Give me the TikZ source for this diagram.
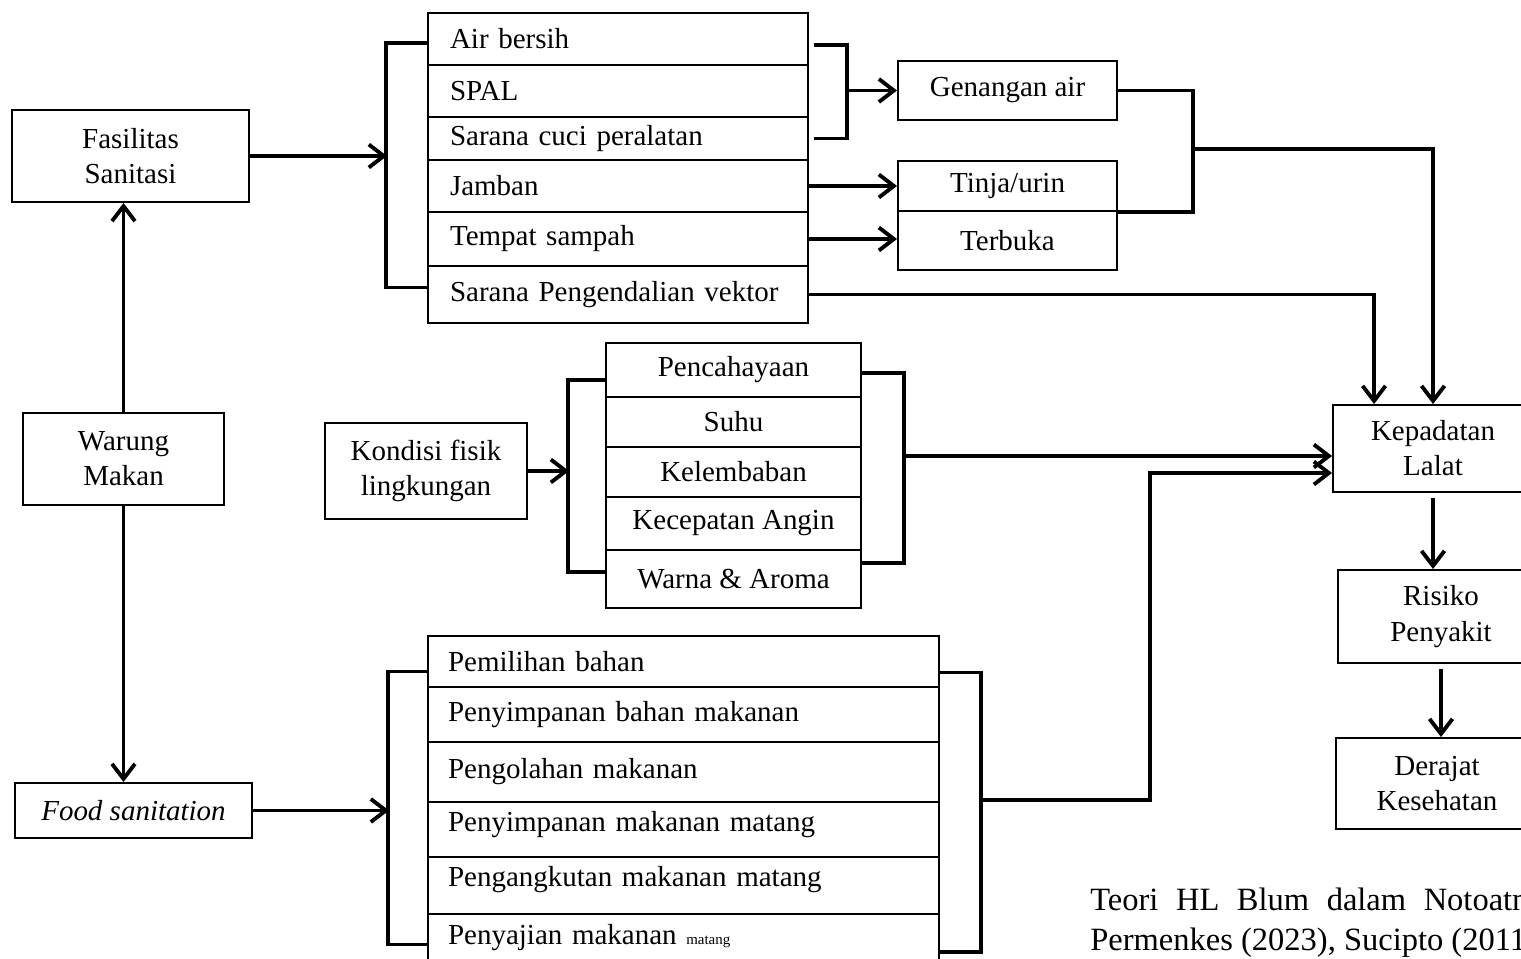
\documentclass[tikz,border=0pt]{standalone}
\usepackage{fontspec}
\setmainfont{Liberation Serif}
\usetikzlibrary{arrows.meta}

\begin{document}
\begin{tikzpicture}[
x=0.02cm, y=-0.02cm,
box/.style={
draw,
line width=1.1pt,
align=center,
inner sep=0pt,
font=\fontsize{16.5}{20}\selectfont
},
itemrow/.style={
draw,
line width=1.1pt,
align=left,
inner ysep=0pt,
inner xsep=0.44cm,
font=\fontsize{16.5}{20}\selectfont
},
toprow/.style={itemrow, text width=6.72cm},
foodrow/.style={itemrow, inner xsep=0.4cm, text width=9.42cm},
envrow/.style={box, minimum width=5.1cm},
cite/.style={inner sep=0pt, anchor=base west, font=\fontsize{18.5}{22}\selectfont},
conn/.style={line width=2.2pt},
arrow/.style={conn, -{Straight Barb[length=0.3cm, width=0.46cm]}}
]
\useasboundingbox (0,0) rectangle (1521,959);

% left column
\node[box, minimum width=4.74cm, minimum height=1.84cm] (fasilitas) at (130.5,156) {Fasilitas\\Sanitasi};
\node[box, minimum width=4.02cm, minimum height=1.84cm] (warung) at (123.5,459) {Warung\\Makan};
\node[box, minimum width=4.74cm, minimum height=1.1cm] (foodsan) at (133.5,810.5) {\textit{Food sanitation}};
\node[box, minimum width=4.04cm, minimum height=1.92cm] (kondisi) at (426,471) {Kondisi fisik\\lingkungan};

% fasilitas sanitasi
\node[toprow, minimum height=1.04cm] (air) at (618,39) {Air bersih};
\node[toprow, minimum height=1.04cm] (spal) at (618,91) {SPAL};
\node[toprow, minimum height=0.86cm] (cuci) at (618,138.5) {Sarana cuci peralatan};
\node[toprow, minimum height=1.04cm] (jamban) at (618,186) {Jamban};
\node[toprow, minimum height=1.08cm] (sampah) at (618,239) {Tempat sampah};
\node[toprow, minimum height=1.14cm] (vektor) at (618,294.5) {Sarana Pengendalian vektor};

\node[box, minimum width=4.38cm, minimum height=1.18cm] (genangan) at (1007.5,90.5) {Genangan air};
\node[box, minimum width=4.38cm, minimum height=1.0cm] (tinja) at (1007.5,186) {Tinja/urin};
\node[box, minimum width=4.38cm, minimum height=1.18cm] (terbuka) at (1007.5,240.5) {Terbuka};

% kondisi fisik
\node[envrow, minimum height=1.08cm] (cahaya) at (733.5,370) {Pencahayaan};
\node[envrow, minimum height=1.0cm] (suhu) at (733.5,422) {Suhu};
\node[envrow, minimum height=1.0cm] (lembab) at (733.5,472) {Kelembaban};
\node[envrow, minimum height=1.06cm] (angin) at (733.5,523.5) {Kecepatan Angin};
\node[envrow, minimum height=1.16cm] (warna) at (733.5,579) {Warna \& Aroma};

% food sanitation
\node[foodrow, minimum height=1.02cm] (pilih) at (683.5,661.5) {Pemilihan bahan};
\node[foodrow, minimum height=1.1cm] (simpanbahan) at (683.5,714.5) {Penyimpanan bahan makanan};
\node[foodrow, minimum height=1.2cm] (olah) at (683.5,772) {Pengolahan makanan};
\node[foodrow, minimum height=1.1cm, text depth=0.33cm] (simpanmatang) at (683.5,829.5) {Penyimpanan makanan matang};
\node[foodrow, minimum height=1.14cm, text depth=0.37cm] (angkut) at (683.5,885.5) {Pengangkutan makanan matang};
\node[foodrow, minimum height=1.22cm, text depth=0.41cm] (saji) at (683.5,944.5) {Penyajian makanan {\fontsize{8.5}{10}\selectfont matang}};

% right column
\node[box, minimum width=4.0cm, minimum height=1.74cm] (kepadatan) at (1433,448.5) {Kepadatan\\Lalat};
\node[box, minimum width=4.12cm, minimum height=1.86cm] (risiko) at (1441,616.5) {Risiko\\Penyakit};
\node[box, minimum width=4.04cm, minimum height=1.82cm] (derajat) at (1437,783.5) {Derajat\\Kesehatan};

\node[cite] (teori) at (1090,910) {\makebox[10.1cm][s]{Teori HL Blum dalam Notoatmodjo}};
\node[cite] (permenkes) at (1090,950) {Permenkes (2023), Sucipto (2011)};

% connectors
\draw[arrow] (warung.north) -- (warung.north |- fasilitas.south);
\draw[arrow] (warung.south) -- (warung.south |- foodsan.north);

\coordinate (inA) at (387,156);
\draw[arrow] (fasilitas.east) -- (inA);
\draw[conn] ([yshift=-0.08cm]air.west) -- ++(-41,0) |- ([yshift=0.14cm]vektor.west);
\draw[conn] ([shift={(0.1cm,-0.12cm)}]air.east) -- ++(33,0) |- ([xshift=0.1cm]cuci.east);
\coordinate (outA) at (846,90.5);
\draw[arrow] (outA) -- (genangan.west);
\draw[arrow] (jamban.east) -- (tinja.west);
\draw[arrow] (sampah.east) -- (sampah.east -| terbuka.west);
\coordinate (jn) at (1193,149);
\draw[conn] (genangan.east) -| (jn |- tinja.south east) -- (tinja.south east);
\draw[arrow] (jn) -| (kepadatan.north);
\draw[arrow] (vektor.east) -| ([xshift=0.84cm]kepadatan.north west);

\coordinate (inB) at (569,471);
\draw[arrow] (kondisi.east) -- (inB);
\draw[conn] ([yshift=-0.2cm]cahaya.west) -- ++(-37,0) |- ([yshift=0.14cm]warna.west);
\draw[conn] ([yshift=-0.06cm]cahaya.east) -- ++(42,0) |- ([yshift=0.32cm]warna.east);
\coordinate (outB) at (903,456);
\draw[arrow] (outB) -- (outB -| kepadatan.west);

\coordinate (inC) at (389,816);
\draw[arrow] (foodsan.east) -- (foodsan.east -| inC);
\draw[conn] ([yshift=-0.2cm]pilih.west) -- ++(-39,0) |- (saji.west);
\draw[conn] ([yshift=-0.22cm]pilih.east) -- ++(41,0) |- ([yshift=-0.15cm]saji.east);
\coordinate (outC) at (980,800);
\coordinate (bendC) at (1150,473);
\draw[arrow] (outC) -| (bendC) -- (bendC -| kepadatan.west);

\draw[arrow] ([yshift=-0.1cm]kepadatan.south) -- (kepadatan.south |- risiko.north);
\draw[arrow] ([yshift=-0.1cm]risiko.south) -- (risiko.south |- derajat.north);
\end{tikzpicture}
\end{document}
